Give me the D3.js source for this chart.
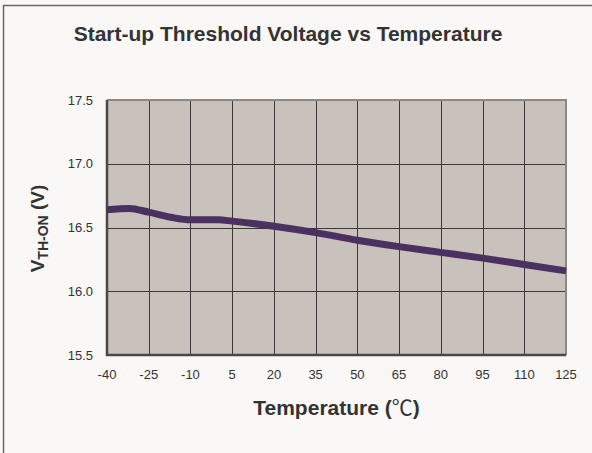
<!DOCTYPE html>
<html>
<head>
<meta charset="utf-8">
<script src="https://cdn.jsdelivr.net/npm/d3@7"></script>
<style>
  html, body { margin: 0; padding: 0; background: #f9f8f6; }
  svg { display: block; font-family: "Liberation Sans", Arial, sans-serif; }
</style>
</head>
<body>
<svg id="chart" width="592" height="453"></svg>
<script>
// temperature (°C) vs start-up threshold voltage (V)
var temps = [-40, -32, -25, -17, -10, 0, 5, 20, 35, 50, 65, 80, 95, 110, 125];
var vth   = [16.64, 16.65, 16.62, 16.58, 16.56, 16.56, 16.55, 16.51, 16.46, 16.40, 16.35, 16.305, 16.26, 16.21, 16.16];
var xTicks = [-40, -25, -10, 5, 20, 35, 50, 65, 80, 95, 110, 125];
var yTicks = [15.5, 16.0, 16.5, 17.0, 17.5];

var svg = d3.select("#chart");
var W = 592, H = 453;
var m = {left: 107, right: 566, top: 100, bottom: 355};

// outer frame (only left/top edges visible in the picture)
svg.append("rect")
  .attr("x", 3.5).attr("y", 5.5).attr("width", W + 10).attr("height", H + 10)
  .attr("fill", "#f9f8f6").attr("stroke", "#666").attr("stroke-width", 1.5);

var x = d3.scaleLinear().domain([-40, 125]).range([m.left, m.right]);
var y = d3.scaleLinear().domain([15.5, 17.5]).range([m.bottom, m.top]);

// plot area
svg.append("rect")
  .attr("x", m.left).attr("y", m.top)
  .attr("width", m.right - m.left).attr("height", m.bottom - m.top)
  .attr("fill", "#c9c1bb");

// grid
var grid = svg.append("g").attr("stroke", "#3c3a3a").attr("stroke-width", 1);
grid.selectAll(".vx").data(xTicks.slice(1, -1)).enter().append("line")
  .attr("x1", function(d){ return Math.round(x(d)) + 0.5; })
  .attr("x2", function(d){ return Math.round(x(d)) + 0.5; })
  .attr("y1", m.top).attr("y2", m.bottom);
grid.selectAll(".hy").data(yTicks.slice(1, -1)).enter().append("line")
  .attr("y1", function(d){ return Math.round(y(d)) + 0.5; })
  .attr("y2", function(d){ return Math.round(y(d)) + 0.5; })
  .attr("x1", m.left).attr("x2", m.right);

// plot border: light top/right, dark left/bottom
svg.append("path")
  .attr("d", "M" + m.left + "," + m.top + "H" + m.right + "V" + m.bottom)
  .attr("fill", "none").attr("stroke", "#8d8884").attr("stroke-width", 2);
svg.append("path")
  .attr("d", "M" + m.left + "," + m.top + "V" + m.bottom + "H" + m.right)
  .attr("fill", "none").attr("stroke", "#4a4746").attr("stroke-width", 2.5);

// curve
var line = d3.line()
  .x(function(d, i){ return x(temps[i]); })
  .y(function(d){ return y(d); })
  .curve(d3.curveMonotoneX);
svg.append("path")
  .datum(vth)
  .attr("d", line)
  .attr("fill", "none")
  .attr("stroke", "#4b3160")
  .attr("stroke-width", 7)
  .attr("stroke-linejoin", "round");

// tick labels
svg.append("g").selectAll("text").data(xTicks).enter().append("text")
  .attr("x", function(d){ return x(d); })
  .attr("y", 379)
  .attr("text-anchor", "middle")
  .attr("font-size", 13).attr("fill", "#333")
  .text(function(d){ return d; });

svg.append("g").selectAll("text").data(yTicks).enter().append("text")
  .attr("x", 93)
  .attr("y", function(d){ return y(d); })
  .attr("dy", "0.35em")
  .attr("text-anchor", "end")
  .attr("font-size", 13).attr("fill", "#333")
  .text(function(d){ return d.toFixed(1); });

// title
svg.append("text")
  .attr("x", 288).attr("y", 41)
  .attr("text-anchor", "middle")
  .attr("font-size", 21).attr("font-weight", "bold").attr("fill", "#333")
  .text("Start-up Threshold Voltage vs Temperature");

// x axis title
var xt = svg.append("text")
  .attr("x", (m.left + m.right) / 2).attr("y", 415)
  .attr("text-anchor", "middle")
  .attr("font-size", 21).attr("font-weight", "bold").attr("fill", "#333");
xt.append("tspan").text("Temperature (");
xt.append("tspan").attr("font-family", "'Noto Sans CJK SC'").attr("font-weight", "normal").text("℃");
xt.append("tspan").text(")");

// y axis title with subscript
var yt = svg.append("text")
  .attr("transform", "translate(44," + ((m.top + m.bottom) / 2 + 1) + ") rotate(-90)")
  .attr("text-anchor", "middle")
  .attr("font-weight", "bold").attr("fill", "#333");
yt.append("tspan").attr("font-size", 19).text("V");
yt.append("tspan").attr("font-size", 14).attr("dy", 4).text("TH-ON");
yt.append("tspan").attr("font-size", 19).attr("dy", -4).text(" (V)");
</script>
</body>
</html>
